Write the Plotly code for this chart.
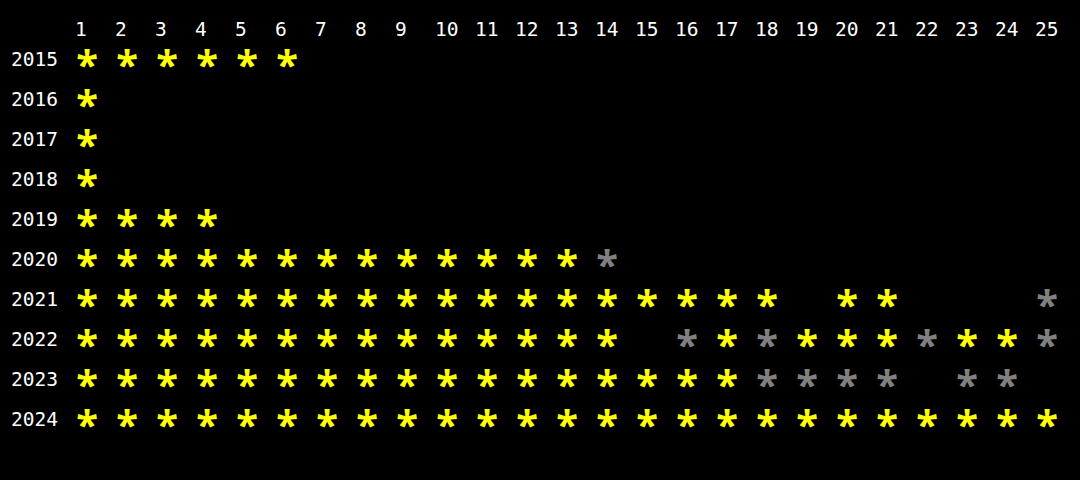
import plotly.graph_objects as go

years = [2015, 2016, 2017, 2018, 2019, 2020, 2021, 2022, 2023, 2024]
days = list(range(1, 26))

# stars per day: 2 = both parts (yellow), 1 = one part (gray), 0 = none
stars_2015 = [2, 2, 2, 2, 2, 2] + [0] * 19
stars_2016 = [2] + [0] * 24
stars_2017 = [2] + [0] * 24
stars_2018 = [2] + [0] * 24
stars_2019 = [2, 2, 2, 2] + [0] * 21
stars_2020 = [2] * 13 + [1] + [0] * 11
stars_2021 = [2] * 18 + [0, 2, 2, 0, 0, 0, 1]
stars_2022 = [2] * 14 + [0, 1, 2, 1, 2, 2, 2, 1, 2, 2, 1]
stars_2023 = [2] * 17 + [1, 1, 1, 1, 0, 1, 1, 0]
stars_2024 = [2] * 25

stars = [stars_2015, stars_2016, stars_2017, stars_2018, stars_2019,
         stars_2020, stars_2021, stars_2022, stars_2023, stars_2024]

MONO = "DejaVu Sans Mono"
STAR_FONT = "Noto Sans"
YELLOW = "#ffff00"
GRAY = "#808080"
STAR_DY = 0.25  # the asterisk glyph sits high in its em box; nudge it down to the row centre

gx, gy, yx, yy = [], [], [], []
for yr, row in zip(years, stars):
    for d, s in zip(days, row):
        if s == 2:
            yx.append(d); yy.append(yr + STAR_DY)
        elif s == 1:
            gx.append(d); gy.append(yr + STAR_DY)

fig = go.Figure()
for xs, ys, col in [(yx, yy, YELLOW), (gx, gy, GRAY)]:
    fig.add_trace(go.Scatter(
        x=xs, y=ys, mode="text", text=["*"] * len(xs),
        textposition="middle center",
        textfont=dict(family=STAR_FONT, size=40, color=col, weight="bold"),
        hoverinfo="skip", showlegend=False, cliponaxis=False,
    ))

annotations = []
for yr in years:
    annotations.append(dict(
        x=0.325, y=yr, xref="x", yref="y", text=str(yr), showarrow=False,
        xanchor="right", yanchor="middle",
        font=dict(family=MONO, size=19.5, color="white"),
    ))
for d in days:
    annotations.append(dict(
        x=d - 0.36, y=years[0] - 0.75, xref="x", yref="y", text=str(d),
        showarrow=False, xanchor="left", yanchor="middle",
        font=dict(family=MONO, size=19.5, color="white"),
    ))

fig.update_layout(
    width=1080, height=480,
    margin=dict(l=0, r=0, t=0, b=0),
    paper_bgcolor="black", plot_bgcolor="black",
    xaxis=dict(range=[-1.175, 25.825], visible=False, fixedrange=True),
    yaxis=dict(range=[2025.525, 2013.525], visible=False, fixedrange=True),
    annotations=annotations,
)

fig.write_html("out.html")
